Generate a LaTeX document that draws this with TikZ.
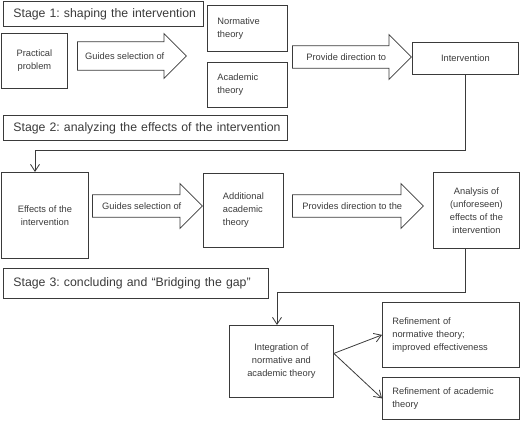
\documentclass[tikz,border=0pt]{standalone}
\usepackage{fontspec}
\setmainfont{Liberation Sans}
\usetikzlibrary{arrows.meta, positioning, shapes.arrows}
\definecolor{boxgray}{HTML}{3A3A3A}
\frenchspacing

\begin{document}
\begin{tikzpicture}[x=1pt, y=-1pt,
    box/.style={draw=boxgray, line width=0.8pt, anchor=north west, inner sep=0pt,
      text=boxgray, font=\fontsize{9.3}{13}\selectfont},
    cbox/.style={box, align=center},
    lbox/.style={box, align=left, inner xsep=10pt},
    stage/.style={box, align=left, inner xsep=10pt, font=\fontsize{12.3}{15}\selectfont},
    bigarrow/.style={single arrow, draw=boxgray, line width=0.8pt, text=boxgray,
      inner ysep=7.5pt, single arrow head extend=11pt, anchor=tail,
      font=\fontsize{9.3}{13}\selectfont},
    link/.style={draw=boxgray, line width=0.8pt, -{Straight Barb[length=7pt, width=9pt]}}]
    \useasboundingbox (0,0) rectangle (520,421);
    % --- Stage 1 ---
    \node[stage, text width=180pt, minimum height=25pt] (stage1) at (3,1)
      {\mbox{Stage 1: shaping the intervention}};
    \node[cbox, minimum width=66pt, minimum height=55pt] (problem) at (1,33)
      {Practical\\problem};
    \node[bigarrow, minimum height=109pt, inner ysep=10.5pt, single arrow head extend=8pt]
      (guide1) at (77,56) {Guides selection of};
    \node[lbox, text width=60pt, minimum height=46pt] (normative) at (207,5)
      {Normative\\theory};
    \node[lbox, text width=60pt, minimum height=45pt] (academic) at (207,62)
      {Academic\\theory};
    \node[bigarrow, minimum height=119pt] (direct1) at (292,57) {Provide direction to};
    \node[cbox, minimum width=106pt, minimum height=32pt] (intervention) at (412,42)
      {Intervention};
    % --- Stage 2 ---
    \node[stage, text width=264pt, minimum height=25pt] (stage2) at (3,115)
      {\mbox{Stage 2: analyzing the effects of the intervention}};
    \node[cbox, minimum width=87pt, minimum height=86pt] (effects) at (1,172)
      {Effects of the\\intervention};
    \node[bigarrow, minimum height=110pt] (guide2) at (92,206) {Guides selection of};
    \node[box, align=left, minimum width=80pt, minimum height=74pt] (additional) at (203,173)
      {Additional\\academic\\theory};
    \node[bigarrow, minimum height=131pt] (direct2) at (292,206) {Provides direction to the};
    \node[cbox, minimum width=86pt, minimum height=76pt] (analysis) at (433,172)
      {Analysis of\\(unforeseen)\\effects of the\\intervention};
    % --- Stage 3 ---
    \node[stage, text width=245pt, minimum height=30pt] (stage3) at (3,268)
      {\mbox{Stage 3: concluding and “Bridging the gap”}};
    \node[cbox, minimum width=104pt, minimum height=72pt] (integration) at (229,325)
      {Integration of\\normative and\\academic theory};
    \node[lbox, text width=117pt, minimum height=65pt] (refnormative) at (382,302)
      {Refinement of\\normative theory;\\improved effectiveness};
    \node[lbox, text width=117pt, minimum height=42pt] (refacademic) at (382,377)
      {Refinement of academic\\theory};
    % Connectors
    \coordinate (down1) at (35,150);
    \coordinate (turn2) at (465,292);
    \coordinate (down2) at (277,292);
    \draw[link] (intervention.south) |- (down1) -- (effects.north -| down1);
    \draw[link] (analysis.south -| turn2) -- (turn2) -- (down2)
      -- (integration.north -| down2);
    \draw[link] ([yshift=8pt]integration.east) -- (refnormative.west);
    \draw[link] ([yshift=8pt]integration.east) -- (refacademic.west);
  \end{tikzpicture}
\end{document}
